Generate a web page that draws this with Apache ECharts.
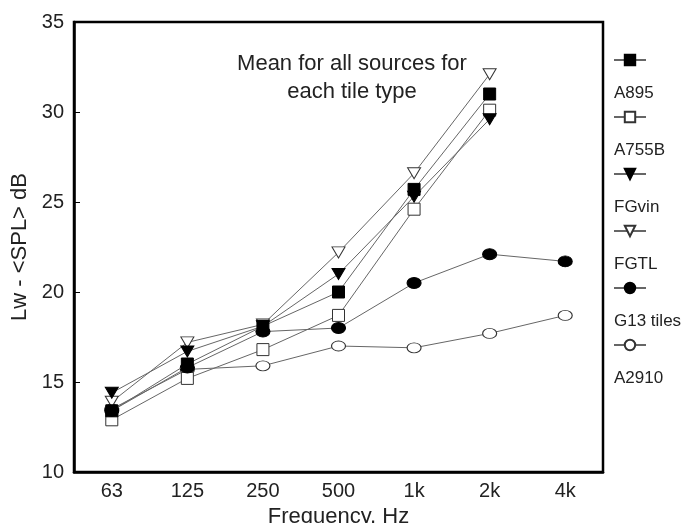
<!DOCTYPE html>
<html>
<head>
<meta charset="utf-8">
<script src="https://cdn.jsdelivr.net/npm/echarts@6/dist/echarts.min.js"></script>
<style>html,body{margin:0;padding:0;background:#fff}#c{width:682px;height:523px}</style>
</head>
<body>
<div id="c"></div>
<script>
var categories = ['63', '125', '250', '500', '1k', '2k', '4k'];
var seriesNames = ['A895', 'A755B', 'FGvin', 'FGTL', 'G13 tiles', 'A2910'];
var A895 = [13.4, 16.0, 18.1, 20.0, 25.7, 31.0, null];
var A755B = [12.9, 15.2, 16.8, 18.7, 24.6, 30.1, null];
var FGvin = [14.4, 16.7, 18.1, 21.0, 25.3, 29.6, null];
var FGTL = [13.9, 17.2, 18.2, 22.2, 26.6, 32.1, null];
var G13 = [13.4, 15.8, 17.8, 18.0, 20.5, 22.1, 21.7];
var A2910 = [13.5, 15.7, 15.9, 17.0, 16.9, 17.7, 18.7];
var yTicks = { min: 10, max: 35, interval: 5 };
var annotation = 'Mean for all sources for\neach tile type';

var FONT = '"Liberation Sans", Arial, sans-serif';
var ELLIPSE = 'path://M0,5 A7,5 0 1,0 14,5 A7,5 0 1,0 0,5 Z';
var TRI_DOWN = 'path://M0,0 L12,0 L6,10 Z';

function mk(name, data, symbol, size, filled, z) {
  return {
    name: name,
    type: 'line',
    data: data,
    symbol: symbol,
    symbolSize: size,
    showAllSymbol: true,
    connectNulls: false,
    lineStyle: { color: '#666', width: 1 },
    itemStyle: {
      color: filled ? '#000' : '#fff',
      borderColor: filled ? '#000' : '#333',
      borderWidth: 1,
      opacity: 1
    },
    emphasis: { disabled: true },
    z: z
  };
}

var legends = seriesNames.map(function (n, i) {
  return {
    orient: 'vertical',
    left: 608,
    top: -11 + 57 * i,
    itemWidth: 32,
    itemHeight: 13,
    selectedMode: false,
    data: [n],
    formatter: function (name) { return '\n' + name; },
    textStyle: {
      fontFamily: FONT, fontSize: 17, color: '#222',
      lineHeight: 66,
      padding: [0, 0, 0, -37]
    }
  };
});

var chart = echarts.init(document.getElementById('c'), null, { renderer: 'canvas' });
chart.setOption({
  animation: false,
  backgroundColor: '#fff',
  textStyle: { fontFamily: FONT },
  grid: {
    left: 74, right: 79, top: 22, bottom: 51,
    outerBoundsMode: 'none',
    containLabel: false,
    show: true, borderColor: '#000', borderWidth: 2.5, backgroundColor: 'transparent'
  },
  legend: legends,
  graphic: [{
    type: 'text',
    x: 352,
    y: 50,
    style: {
      text: annotation,
      fontFamily: FONT,
      fontSize: 22,
      lineHeight: 28,
      fill: '#222',
      align: 'center',
      verticalAlign: 'top'
    }
  }],
  xAxis: {
    type: 'category',
    data: categories,
    boundaryGap: true,
    name: 'Frequency, Hz',
    nameLocation: 'middle',
    nameGap: 32,
    nameTextStyle: { fontFamily: FONT, fontSize: 22, color: '#222' },
    axisLine: { lineStyle: { color: '#000', width: 2.5 } },
    axisTick: { inside: true, length: 6, alignWithLabel: true, lineStyle: { color: '#000', width: 1 } },
    axisLabel: { fontFamily: FONT, fontSize: 20, color: '#222', margin: 9 },
    splitLine: { show: false }
  },
  yAxis: {
    type: 'value',
    min: yTicks.min,
    max: yTicks.max,
    interval: yTicks.interval,
    name: 'Lw - <SPL> dB',
    nameLocation: 'middle',
    nameGap: 37,
    nameTextStyle: { fontFamily: FONT, fontSize: 22, color: '#222' },
    axisLine: { show: true, lineStyle: { color: '#000', width: 2.5 } },
    axisTick: { show: true, inside: true, length: 6, lineStyle: { color: '#000', width: 1 } },
    axisLabel: { fontFamily: FONT, fontSize: 20, color: '#222', margin: 10 },
    splitLine: { show: false }
  },
  series: [
    mk('A895', A895, 'rect', 12, true, 8),
    mk('A755B', A755B, 'rect', 12, false, 3),
    mk('FGvin', FGvin, TRI_DOWN, [13, 11], true, 5),
    mk('FGTL', FGTL, TRI_DOWN, [13, 11], false, 4),
    mk('G13 tiles', G13, ELLIPSE, [14, 11], true, 6),
    mk('A2910', A2910, ELLIPSE, [14, 10], false, 2)
  ]
});
</script>
</body>
</html>
